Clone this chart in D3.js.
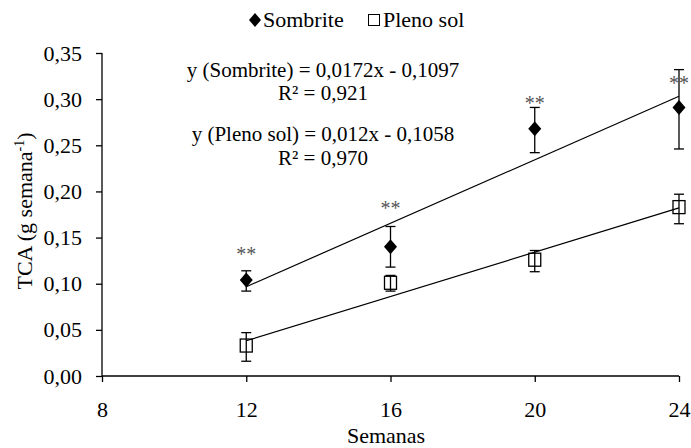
<!DOCTYPE html>
<html><head><meta charset="utf-8">
<script src="https://cdn.jsdelivr.net/npm/d3@7"></script>
<style>body{margin:0;background:#fff}svg{display:block}</style>
</head><body><svg id="c" width="691" height="448"></svg>
<script>
const weeks = [12, 16, 20, 24];
const sombrite = [0.104, 0.140, 0.268, 0.291];
const sombriteLo = [0.092, 0.118, 0.242, 0.246];
const sombriteHi = [0.114, 0.162, 0.291, 0.332];
const pleno = [0.033, 0.101, 0.126, 0.183];
const plenoLo = [0.016, 0.092, 0.113, 0.165];
const plenoHi = [0.047, 0.109, 0.136, 0.197];
const fitSombrite = [0.0172, -0.1097];
const fitPleno = [0.012, -0.1058];
const xTicks = [8, 12, 16, 20, 24];
const yTicks = [0, 0.05, 0.10, 0.15, 0.20, 0.25, 0.30, 0.35];
const sig = ["**", "**", "**", "**"];

const FONT = "'Liberation Serif', 'Times New Roman', 'DejaVu Serif', serif";
const svg = d3.select("#c").attr("font-family", FONT);
const x = d3.scaleLinear().domain([8, 24]).range([102, 679]);
const y = d3.scaleLinear().domain([0, 0.35]).range([376, 53]);
const fmt = v => d3.format(".2f")(v).replace(".", ",");

const yAxis = svg.append("g").attr("transform", "translate(102,0)")
  .call(d3.axisLeft(y).tickValues(yTicks).tickFormat(fmt).tickSize(6).tickPadding(14));
const xAxis = svg.append("g").attr("transform", "translate(0,376)")
  .call(d3.axisBottom(x).tickValues(xTicks).tickFormat(d3.format("d")).tickSize(6).tickPadding(19));
[yAxis, xAxis].forEach(a => {
  a.attr("font-family", FONT).attr("font-size", 22);
  a.selectAll("text").attr("fill", "#000");
  a.selectAll("path,line").attr("stroke", "#000").attr("stroke-width", 1.3);
});
yAxis.select(".domain").attr("d", "M0,53V376");
xAxis.select(".domain").attr("d", "M102,0H679");

// trend lines
function fitLine(c) {
  return [weeks[0], weeks[weeks.length - 1]].map(w => [w, c[0] * w + c[1]]);
}
const line = d3.line().x(d => x(d[0])).y(d => y(d[1]));
[fitSombrite, fitPleno].forEach(c => {
  svg.append("path").attr("d", line(fitLine(c))).attr("fill", "none").attr("stroke", "#000").attr("stroke-width", 1.2);
});

// error bars
function errBars(lo, hi) {
  const g = svg.append("g").attr("stroke", "#000").attr("stroke-width", 1.3);
  weeks.forEach((w, i) => {
    g.append("line").attr("x1", x(w)).attr("x2", x(w)).attr("y1", y(lo[i])).attr("y2", y(hi[i]));
    [lo[i], hi[i]].forEach(v => g.append("line").attr("x1", x(w) - 5).attr("x2", x(w) + 5).attr("y1", y(v)).attr("y2", y(v)));
  });
}
errBars(plenoLo, plenoHi);
errBars(sombriteLo, sombriteHi);

// markers
svg.append("g").selectAll("rect").data(weeks).join("rect")
  .attr("x", w => x(w) - 6).attr("y", (w, i) => y(pleno[i]) - 6.5)
  .attr("width", 12).attr("height", 13).attr("fill", "none").attr("stroke", "#000").attr("stroke-width", 1.3);
svg.append("g").selectAll("path").data(weeks).join("path")
  .attr("d", (w, i) => { const cx = x(w), cy = y(sombrite[i]); return `M${cx},${cy-7.5}L${cx+6.5},${cy}L${cx},${cy+7.5}L${cx-6.5},${cy}Z`; })
  .attr("fill", "#000");

// significance
const sigY = [251, 205, 100, 80];
svg.append("g").selectAll("text").data(weeks).join("text")
  .attr("x", w => x(w)).attr("y", (w, i) => sigY[i] + 10).attr("text-anchor", "middle")
  .attr("font-size", 20).attr("fill", "#555").text((w, i) => sig[i]);

// equations
const eqs = [
  ["y (Sombrite) = 0,0172x - 0,1097", 76.5],
  ["R² = 0,921", 100],
  ["y (Pleno sol) = 0,012x - 0,1058", 141],
  ["R² = 0,970", 164.5]
];
svg.append("g").selectAll("text").data(eqs).join("text")
  .attr("x", 323).attr("y", d => d[1]).attr("text-anchor", "middle")
  .attr("font-size", 21).attr("fill", "#000").text(d => d[0]);

// legend
svg.append("path").attr("d", "M255,13L261,20L255,27L249,20Z").attr("fill", "#000");
svg.append("text").attr("x", 263).attr("y", 27).attr("font-size", 22).text("Sombrite");
svg.append("rect").attr("x", 368.5).attr("y", 14.5).attr("width", 11).attr("height", 11).attr("fill", "none").attr("stroke", "#000").attr("stroke-width", 1);
svg.append("text").attr("x", 383).attr("y", 27).attr("font-size", 22).text("Pleno sol");

// axis titles
svg.append("text").attr("x", 386).attr("y", 442.5).attr("text-anchor", "middle").attr("font-size", 22).text("Semanas");
const yt = svg.append("text").attr("transform", "translate(32,211) rotate(-90)").attr("text-anchor", "middle").attr("font-size", 22);
yt.append("tspan").text("TCA (g semana");
yt.append("tspan").attr("dy", -8).attr("font-size", 14).text("-1");
yt.append("tspan").attr("dy", 8).text(")");
</script></body></html>
